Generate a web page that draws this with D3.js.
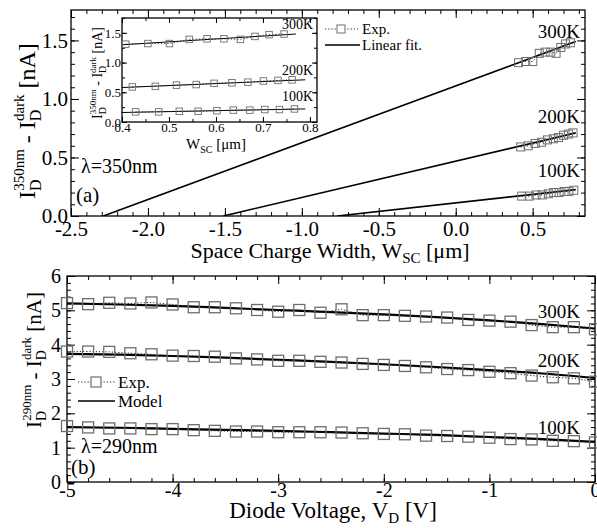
<!DOCTYPE html>
<html><head><meta charset="utf-8">
<script src="https://cdn.jsdelivr.net/npm/d3@7"></script>
<style>
html,body{margin:0;padding:0;background:#fff;}
svg{display:block;font-family:"Liberation Serif","Times New Roman",serif;}
.axis path{display:none;}
.axis line{stroke:#000;stroke-width:1;}
.axis text{fill:#000;font-family:"Liberation Serif","Times New Roman",serif;}
</style></head>
<body>
<svg id="c" width="597" height="528"></svg>
<script>
// ---------------- DATA ----------------
// Panel (a): space charge width [µm] vs photocurrent [nA], λ=350nm
const tempLabels = ["300K", "200K", "100K"];
const expW300 = [0.408, 0.455, 0.501, 0.543, 0.581, 0.617, 0.652, 0.683, 0.713, 0.745];
const expI300 = [1.31, 1.32, 1.32, 1.39, 1.40, 1.40, 1.39, 1.44, 1.47, 1.48];
const expW200 = [0.422, 0.471, 0.516, 0.558, 0.596, 0.634, 0.668, 0.701, 0.732, 0.762];
const expI200 = [0.59, 0.60, 0.62, 0.63, 0.65, 0.66, 0.67, 0.69, 0.70, 0.71];
const expW100 = [0.429, 0.478, 0.522, 0.562, 0.602, 0.637, 0.672, 0.704, 0.735, 0.767];
const expI100 = [0.17, 0.17, 0.18, 0.18, 0.19, 0.20, 0.20, 0.21, 0.21, 0.22];
// linear fit end points (main plot)
const fitW300 = [-2.29, 0.78], fitI300 = [0, 1.49];
const fitW200 = [-1.51, 0.78], fitI200 = [0, 0.71];
const fitW100 = [-0.77, 0.78], fitI100 = [0, 0.225];
// linear fit segments shown in the inset
const insW300 = [0.40, 0.77], insI300 = [1.30, 1.48];
const insW200 = [0.40, 0.79], insI200 = [0.58, 0.71];
const insW100 = [0.40, 0.79], insI100 = [0.16, 0.22];
const topXTicks = [-2.5, -2.0, -1.5, -1.0, -0.5, 0.0, 0.5];
const topYTicks = [0.0, 0.5, 1.0, 1.5];
const insXTicks = [0.4, 0.5, 0.6, 0.7, 0.8];
const insYTicks = [0.0, 0.5, 1.0, 1.5];

// Panel (b): diode voltage [V] vs photocurrent [nA], λ=290nm
const expV = [-5.0, -4.8, -4.6, -4.4, -4.2, -4.0, -3.8, -3.6, -3.4, -3.2, -3.0, -2.8, -2.6,
              -2.4, -2.2, -2.0, -1.8, -1.6, -1.4, -1.2, -1.0, -0.8, -0.6, -0.4, -0.2, 0.0];
const expB300 = [5.21, 5.18, 5.22, 5.20, 5.23, 5.17, 5.09, 5.09, 5.06, 5.01, 4.96, 5.01, 4.93,
                 5.03, 4.86, 4.86, 4.84, 4.82, 4.79, 4.72, 4.70, 4.67, 4.57, 4.51, 4.51, 4.45];
const expB200 = [3.80, 3.80, 3.79, 3.75, 3.72, 3.68, 3.67, 3.65, 3.60, 3.57, 3.53, 3.53, 3.50,
                 3.48, 3.44, 3.41, 3.38, 3.34, 3.29, 3.26, 3.21, 3.17, 3.10, 3.05, 3.02, 2.92];
const expB100 = [1.63, 1.59, 1.56, 1.56, 1.54, 1.54, 1.51, 1.49, 1.47, 1.47, 1.45, 1.45, 1.45,
                 1.44, 1.42, 1.40, 1.39, 1.35, 1.34, 1.32, 1.29, 1.25, 1.24, 1.20, 1.19, 1.15];
const modelV = [-5.0, -4.5, -4.0, -3.5, -3.0, -2.5, -2.0, -1.5, -1.0, -0.5, 0.0];
const modelB300 = [5.20, 5.17, 5.13, 5.07, 5.01, 4.95, 4.88, 4.80, 4.71, 4.60, 4.47];
const modelB200 = [3.73, 3.71, 3.67, 3.62, 3.56, 3.50, 3.43, 3.35, 3.26, 3.16, 3.03];
const modelB100 = [1.60, 1.58, 1.55, 1.52, 1.49, 1.45, 1.41, 1.37, 1.31, 1.25, 1.17];
const botXTicks = [-5, -4, -3, -2, -1, 0];
const botYTicks = [0, 1, 2, 3, 4, 5, 6];

// ---------------- DRAWING ----------------
const svg = d3.select("#c");
const zip = (a, b) => a.map((v, i) => [v, b[i]]);

function rich(sel, parts) {
  // parts: [text, size, dy, dx]
  parts.forEach(p => {
    const t = sel.append("tspan").text(p[0]).attr("font-size", p[1]);
    if (p[2]) t.attr("dy", p[2]);
    if (p[3]) t.attr("dx", p[3]);
  });
  return sel;
}

function frameAxes(g, x, y, o) {
  const [x0, x1] = x.range(), [y0, y1] = y.range();
  const mk = (axisFn, scale, vals, size, labels, tr, fs, pad, fmt) => {
    const a = axisFn(scale).tickValues(vals).tickSizeInner(-size).tickSizeOuter(0).tickPadding(pad);
    a.tickFormat(labels ? fmt : () => "");
    const ag = g.append("g").attr("class", "axis").attr("transform", tr).call(a);
    ag.attr("font-family", null);
    ag.selectAll("text").attr("font-size", fs);
    return ag;
  };
  mk(d3.axisBottom, x, o.xMinor, o.minorLen, false, `translate(0,${y0})`, 0, 0);
  mk(d3.axisBottom, x, o.xMajor, o.majorLen, true, `translate(0,${y0})`, o.fs, o.xPad, o.xFmt);
  mk(d3.axisTop, x, o.xMinor, o.minorLen, false, `translate(0,${y1})`, 0, 0);
  mk(d3.axisTop, x, o.xMajor, o.majorLen, false, `translate(0,${y1})`, 0, 0);
  mk(d3.axisLeft, y, o.yMinor, o.minorLen, false, `translate(${x0},0)`, 0, 0);
  mk(d3.axisLeft, y, o.yMajor, o.majorLen, true, `translate(${x0},0)`, o.fs, o.yPad, o.yFmt);
  mk(d3.axisRight, y, o.yMinor, o.minorLen, false, `translate(${x1},0)`, 0, 0);
  mk(d3.axisRight, y, o.yMajor, o.majorLen, false, `translate(${x1},0)`, 0, 0);
  g.append("rect").attr("x", x0).attr("y", y1).attr("width", x1 - x0).attr("height", y0 - y1)
    .attr("fill", "none").attr("stroke", "#000").attr("stroke-width", 1.3);
}

function squares(g, x, y, pts, s, sw) {
  g.selectAll(null).data(pts).enter().append("rect")
    .attr("x", d => x(d[0]) - s / 2).attr("y", d => y(d[1]) - s / 2)
    .attr("width", s).attr("height", s)
    .attr("fill", "none").attr("stroke", "#6e6e6e").attr("stroke-width", sw);
}
function dotted(g, x, y, pts, w) {
  g.append("path").datum(pts).attr("d", d3.line().x(d => x(d[0])).y(d => y(d[1])))
    .attr("fill", "none").attr("stroke", "#222").attr("stroke-width", w || 1).attr("stroke-dasharray", "1.2,2");
}
function solid(g, x, y, pts, w, curve) {
  const l = d3.line().x(d => x(d[0])).y(d => y(d[1]));
  if (curve) l.curve(d3.curveMonotoneX);
  g.append("path").datum(pts).attr("d", l).attr("fill", "none").attr("stroke", "#000").attr("stroke-width", w);
}

// ===== Panel (a) =====
const xA = d3.scaleLinear().domain([-2.5, 0.84]).range([71, 585]);
const yA = d3.scaleLinear().domain([0, 1.76]).range([216, 10]);
const gA = svg.append("g");
frameAxes(gA, xA, yA, {
  xMajor: topXTicks, xMinor: d3.range(-2.5, 0.845, 0.1),
  yMajor: topYTicks, yMinor: d3.range(0, 1.76, 0.1),
  majorLen: 8, minorLen: 4, fs: 21, xPad: 5, yPad: 3,
  xFmt: d => d.toFixed(1), yFmt: d => d.toFixed(1)
});
svg.append("clipPath").attr("id", "clipA").append("rect")
  .attr("x", 71).attr("y", 10).attr("width", 514).attr("height", 206);
const pA = gA.append("g").attr("clip-path", "url(#clipA)");
[[fitW300, fitI300], [fitW200, fitI200], [fitW100, fitI100]].forEach(f => solid(pA, xA, yA, zip(f[0], f[1]), 1.6));
[[expW300, expI300], [expW200, expI200], [expW100, expI100]].forEach(e => {
  dotted(pA, xA, yA, zip(e[0], e[1]));
  squares(pA, xA, yA, zip(e[0], e[1]), 8, 1);
});
[[tempLabels[0], 38], [tempLabels[1], 123], [tempLabels[2], 177]].forEach(l =>
  gA.append("text").attr("x", 580).attr("y", l[1]).attr("text-anchor", "end").attr("font-size", 19).text(l[0]));
gA.append("text").attr("x", 81).attr("y", 173).attr("font-size", 20).text("λ=350nm");
gA.append("text").attr("x", 76).attr("y", 202).attr("font-size", 21).text("(a)");
// legend
dotted(gA, d => d, d => d, [[325, 29], [358, 29]]);
gA.append("rect").attr("x", 337).attr("y", 25).attr("width", 8).attr("height", 8)
  .attr("fill", "#fff").attr("stroke", "#6e6e6e");
gA.append("text").attr("x", 362).attr("y", 34).attr("font-size", 15).text("Exp.");
gA.append("line").attr("x1", 325).attr("x2", 360).attr("y1", 45).attr("y2", 45).attr("stroke", "#000").attr("stroke-width", 1.6);
gA.append("text").attr("x", 362).attr("y", 50).attr("font-size", 15).text("Linear fit.");
// axis titles
rich(gA.append("text").attr("x", 330).attr("y", 258).attr("text-anchor", "middle"),
  [["Space Charge Width, W", 22], ["SC", 15, 5], [" [μm]", 22, -5]]);
rich(gA.append("text").attr("transform", "translate(35,121) rotate(-90)").attr("text-anchor", "middle"),
  [["I", 24], ["D", 16, 6], ["350nm", 15, -17, -11.5], [" - I", 24, 11], ["D", 16, 6], ["dark", 15, -17, -11.5], [" [nA]", 24, 11]]);

// ----- inset -----
const xI = d3.scaleLinear().domain([0.4, 0.815]).range([122, 317]);
const yI = d3.scaleLinear().domain([0, 1.75]).range([122, 18]);
const gI = svg.append("g");
gI.append("rect").attr("x", 122).attr("y", 18).attr("width", 195).attr("height", 104).attr("fill", "#fff");
frameAxes(gI, xI, yI, {
  xMajor: insXTicks, xMinor: d3.range(0.4, 0.816, 0.05),
  yMajor: insYTicks, yMinor: d3.range(0, 1.76, 0.25),
  majorLen: 5, minorLen: 3, fs: 13, xPad: 1, yPad: 1,
  xFmt: d => d.toFixed(1), yFmt: d => d.toFixed(1)
});
[[insW300, insI300], [insW200, insI200], [insW100, insI100]].forEach(f => solid(gI, xI, yI, zip(f[0], f[1]), 1));
[[expW300, expI300], [expW200, expI200], [expW100, expI100]].forEach(e => {
  dotted(gI, xI, yI, zip(e[0], e[1]), 0.9);
  squares(gI, xI, yI, zip(e[0], e[1]), 6.5, 0.9);
});
[[tempLabels[0], 29], [tempLabels[1], 75], [tempLabels[2], 101]].forEach(l =>
  gI.append("text").attr("x", 313).attr("y", l[1]).attr("text-anchor", "end").attr("font-size", 14).text(l[0]));
rich(gI.append("text").attr("x", 216).attr("y", 149).attr("text-anchor", "middle"),
  [["W", 15], ["SC", 10, 4], [" [μm]", 15, -4]]);
rich(gI.append("text").attr("transform", "translate(102,73) rotate(-90)").attr("text-anchor", "middle"),
  [["I", 14], ["D", 10, 4], ["350nm", 9, -10, -7.2], [" - I", 14, 6], ["D", 10, 4], ["dark", 9, -10, -7.2], [" [nA]", 14, 6]]);

// ===== Panel (b) =====
const xB = d3.scaleLinear().domain([-5, 0]).range([67, 595]);
const yB = d3.scaleLinear().domain([0, 6]).range([482, 276]);
const gB = svg.append("g");
frameAxes(gB, xB, yB, {
  xMajor: botXTicks, xMinor: d3.range(-5, 0.01, 0.2),
  yMajor: botYTicks, yMinor: d3.range(0, 6.01, 0.2),
  majorLen: 8, minorLen: 4, fs: 20, xPad: 1, yPad: 6,
  xFmt: d => d.toFixed(0), yFmt: d => d.toFixed(0)
});
svg.append("clipPath").attr("id", "clipB").append("rect")
  .attr("x", 60).attr("y", 276).attr("width", 545).attr("height", 206);
const pB = gB.append("g").attr("clip-path", "url(#clipB)");
[modelB300, modelB200, modelB100].forEach(m => solid(pB, xB, yB, zip(modelV, m), 2.2, true));
[expB300, expB200, expB100].forEach(e => {
  dotted(pB, xB, yB, zip(expV, e), 1);
  squares(pB, xB, yB, zip(expV, e), 11, 1.3);
});
[[tempLabels[0], 318], [tempLabels[1], 367], [tempLabels[2], 434]].forEach(l =>
  gB.append("text").attr("x", 580).attr("y", l[1]).attr("text-anchor", "end").attr("font-size", 19).text(l[0]));
gB.append("text").attr("x", 81).attr("y", 453).attr("font-size", 20).text("λ=290nm");
gB.append("text").attr("x", 71).attr("y", 474).attr("font-size", 21).text("(b)");
dotted(gB, d => d, d => d, [[78, 382], [115, 382]]);
gB.append("rect").attr("x", 91).attr("y", 377).attr("width", 10).attr("height", 10)
  .attr("fill", "#fff").attr("stroke", "#6e6e6e").attr("stroke-width", 1.2);
gB.append("text").attr("x", 118).attr("y", 388).attr("font-size", 17).text("Exp.");
gB.append("line").attr("x1", 78).attr("x2", 115).attr("y1", 401).attr("y2", 401).attr("stroke", "#000").attr("stroke-width", 1.6);
gB.append("text").attr("x", 118).attr("y", 407).attr("font-size", 17).text("Model");
rich(gB.append("text").attr("x", 333).attr("y", 518).attr("text-anchor", "middle"),
  [["Diode Voltage, V", 23], ["D", 15, 5], [" [V]", 23, -5]]);
rich(gB.append("text").attr("transform", "translate(41,360) rotate(-90)").attr("text-anchor", "middle"),
  [["I", 21], ["D", 14, 5], ["290nm", 13, -15, -10], [" - I", 21, 10], ["D", 14, 5], ["dark", 13, -15, -10], [" [nA]", 21, 10]]);
</script>
</body></html>
